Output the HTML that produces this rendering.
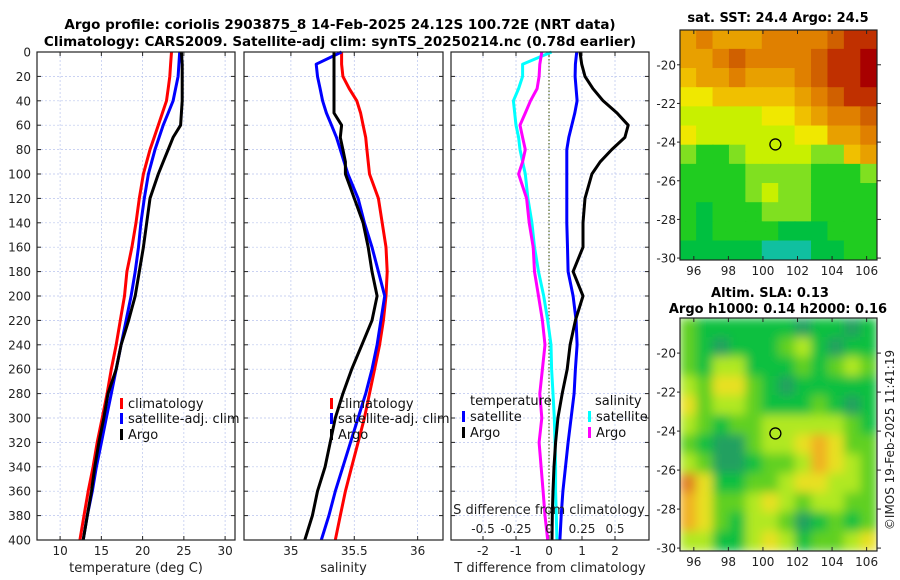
<!DOCTYPE html>
<html><head><meta charset="utf-8"><style>
body{margin:0;background:#fff;}
svg{display:block;font-family:"DejaVu Sans","Liberation Sans",sans-serif;}
</style></head><body>
<svg id="fig" width="900" height="580" viewBox="0 0 900 580" xmlns="http://www.w3.org/2000/svg">
<text x="340" y="29" font-size="13.5" font-weight="bold" text-anchor="middle">Argo profile: coriolis 2903875_8 14-Feb-2025 24.12S 100.72E (NRT data)</text>
<text x="340" y="46" font-size="13.5" font-weight="bold" text-anchor="middle">Climatology: CARS2009. Satellite-adj clim: synTS_20250214.nc (0.78d earlier)</text>
<text x="778" y="22" font-size="13" font-weight="bold" text-anchor="middle">sat. SST: 24.4 Argo: 24.5</text>
<text x="770" y="297" font-size="13" font-weight="bold" text-anchor="middle">Altim. SLA: 0.13</text>
<text x="778" y="313" font-size="13" font-weight="bold" text-anchor="middle">Argo h1000: 0.14 h2000: 0.16</text>
<text transform="translate(894,440) rotate(-90)" font-size="12" text-anchor="middle" fill="#222">©IMOS 19-Feb-2025 11:41:19</text>
<g id="root"></g>
</svg>
<script>
const depths=[0,10,20,30,40,50,60,70,80,90,100,120,140,160,180,200,220,240,260,280,300,320,340,360,380,400];
const tClim=[23.5,23.4,23.3,23.1,22.9,22.4,21.9,21.4,20.9,20.5,20.1,19.6,19.2,18.7,18.1,17.8,17.3,16.8,16.2,15.7,15.1,14.5,14.0,13.4,12.9,12.4];
const tSat=[24.5,24.4,24.3,24.0,23.7,23.1,22.5,22.0,21.5,21.1,20.7,20.2,19.8,19.5,19.1,18.6,18.0,17.4,16.8,16.2,15.6,15.0,14.4,13.9,13.3,12.8];
const tArgo=[24.7,24.8,24.8,24.8,24.8,24.7,24.6,23.7,23.1,22.5,21.9,20.9,20.5,20.1,19.6,19.1,18.3,17.4,16.8,15.8,15.3,14.7,14.2,13.8,13.3,12.8];
const sClim=[35.40,35.40,35.41,35.46,35.52,35.55,35.57,35.59,35.60,35.61,35.62,35.69,35.72,35.75,35.76,35.75,35.73,35.70,35.66,35.62,35.58,35.53,35.48,35.43,35.39,35.35];
const sSat=[35.40,35.20,35.21,35.23,35.25,35.28,35.32,35.36,35.39,35.42,35.45,35.53,35.58,35.64,35.69,35.74,35.71,35.68,35.64,35.59,35.53,35.47,35.41,35.35,35.30,35.24];
const sArgo=[35.34,35.34,35.34,35.34,35.34,35.34,35.40,35.39,35.41,35.43,35.43,35.50,35.57,35.61,35.64,35.68,35.64,35.56,35.48,35.41,35.35,35.31,35.27,35.21,35.17,35.11];
const dTsat=[0.84,0.80,0.79,0.82,0.85,0.78,0.69,0.60,0.54,0.54,0.54,0.54,0.54,0.56,0.58,0.73,0.82,0.85,0.80,0.76,0.67,0.58,0.50,0.42,0.37,0.33];
const dTargo=[0.94,0.99,1.09,1.33,1.64,2.06,2.40,2.30,1.90,1.55,1.30,1.09,1.03,1.03,0.73,1.03,0.80,0.64,0.55,0.40,0.27,0.20,0.15,0.12,0.10,0.09];
const dSsat=[0.02,-0.20,-0.20,-0.23,-0.27,-0.26,-0.25,-0.23,-0.22,-0.20,-0.18,-0.16,-0.13,-0.11,-0.08,-0.04,-0.01,0.015,0.02,0.03,0.04,0.045,0.05,0.05,0.055,0.06];
const dSargo=[-0.055,-0.07,-0.075,-0.09,-0.14,-0.18,-0.22,-0.20,-0.18,-0.20,-0.23,-0.17,-0.15,-0.12,-0.11,-0.08,-0.05,-0.03,-0.05,-0.07,-0.055,-0.075,-0.06,-0.045,-0.03,-0.01];
const depthTicks=[0,20,40,60,80,100,120,140,160,180,200,220,240,260,280,300,320,340,360,380,400];
const tTicks=[10,15,20,25,30];
const sTicks=[35,35.5,36];
const sTickLabels=["35","35.5","36"];
const dTTicks=[-2,-1,0,1,2];
const dSTicks=[-0.5,-0.25,0,0.25,0.5];
const dSTickLabels=["-0.5","-0.25","0","0.25","0.5"];
const sstVals=[
[6,7,6,6,6,7,7,7,7,8,9,9],[6,6,7,8,7,7,7,7,8,9,9,10],[5,6,6,7,6,6,6,7,8,9,9,10],[4,4,5,5,5,5,5,6,7,8,9,9],
[3,3,3,3,3,4,4,5,6,7,7,8],[4,3,3,3,3,3,3,4,4,6,6,7],[2,1,1,2,3,3,3,3,2,2,5,6],[1,1,1,1,2,2,2,2,1,1,1,2],
[1,1,1,1,2,3,2,2,1,1,1,1],[1,0,1,1,1,2,2,2,1,1,1,1],[1,0,1,1,1,1,0,0,0,1,1,1],[0,0,0,0,0,-1,-1,-1,0,0,1,1]];
const slaVals=[
[2,1,1,1,1,1,1,0,1,1,0,1],[2,1,0,1,1,1,2,3,1,0,1,1],[2,1,3,3,1,1,1,2,1,2,3,2],[3,2,4,4,2,1,0,1,1,1,1,1],
[4,2,3,3,2,1,1,1,2,1,0,1],[3,2,1,2,2,3,3,3,3,3,2,1],[2,1,0,0,2,3,3,4,5,4,2,2],[3,2,0,0,1,2,2,3,5,4,3,2],
[6,4,1,1,2,2,3,4,4,3,3,2],[5,4,2,2,3,4,3,2,3,3,2,2],[5,4,2,1,3,3,2,0,1,2,1,2],[3,3,1,1,3,4,3,1,2,2,3,4]];
const latTicks=[-20,-22,-24,-26,-28,-30];
const lonTicks=[96,98,100,102,104,106];
const argoLat=-24.12, argoLon=100.72;

const NS="http://www.w3.org/2000/svg";
const root=document.getElementById('root');
function mk(tag,attrs,parent){const e=document.createElementNS(NS,tag);for(const k in attrs)e.setAttribute(k,attrs[k]);(parent||root).appendChild(e);return e;}
const Y0=52,Y1=540;
const yD=d=>Y0+(d/400)*(Y1-Y0);
const panels=[
 {x0:37,x1:235,lo:7.2,hi:31.2,ticks:tTicks,labels:tTicks.map(String),xl:"temperature (deg C)",name:"temperature-panel"},
 {x0:244,x1:443,lo:34.63,hi:36.2,ticks:sTicks,labels:sTickLabels,xl:"salinity",name:"salinity-panel"},
 {x0:451,x1:649,lo:-2.97,hi:3.03,ticks:dTTicks,labels:dTTicks.map(String),xl:"T difference from climatology",name:"difference-panel"}];
panels.forEach(p=>{p.sx=v=>p.x0+(v-p.lo)/(p.hi-p.lo)*(p.x1-p.x0);});
panels.forEach((p,i)=>{
 const g=mk('g',{});
 
 
 depthTicks.forEach(d=>{mk('line',{x1:p.x0,x2:p.x1,y1:yD(d),y2:yD(d),stroke:'#b8c4ee','stroke-width':0.7,'stroke-dasharray':'2,2'},g);
  mk('line',{x1:p.x0,x2:p.x0+4,y1:yD(d),y2:yD(d),stroke:'#222'},g);mk('line',{x1:p.x1-4,x2:p.x1,y1:yD(d),y2:yD(d),stroke:'#222'},g);
  if(i==0){const t=mk('text',{x:p.x0-6,y:yD(d)+4.5,'font-size':12,'text-anchor':'end',fill:'#222'},g);t.textContent=d;}});
 p.ticks.forEach((v,k)=>{const x=p.sx(v);mk('line',{x1:x,x2:x,y1:Y0,y2:Y1,stroke:'#b8c4ee','stroke-width':0.7,'stroke-dasharray':'2,2'},g);
  mk('line',{x1:x,x2:x,y1:Y1-4,y2:Y1,stroke:'#222'},g);mk('line',{x1:x,x2:x,y1:Y0,y2:Y0+4,stroke:'#222'},g);
  const t=mk('text',{x:x,y:555,'font-size':12,'text-anchor':'middle',fill:'#222'},g);t.textContent=p.labels[k];});
 const xl=mk('text',{x:(p.x0+p.x1)/2,y:572,'font-size':13,'text-anchor':'middle',fill:'#222'},g);xl.textContent=p.xl;
});
const P3=panels[2];
mk('line',{x1:P3.sx(0),x2:P3.sx(0),y1:Y0,y2:Y1,stroke:'#556622','stroke-width':1.2,'stroke-dasharray':'1.5,2'});
function line(p,vals,col,name,scale){const s=scale||1;const pts=vals.map((v,k)=>p.sx(v*s).toFixed(1)+','+yD(depths[k]).toFixed(1)).join(' ');
 const e=mk('polyline',{points:pts,fill:'none',stroke:col,'stroke-width':3,'stroke-linejoin':'round'});
 
 }
line(panels[0],tClim,'#ff0000','temp-climatology-line');
line(panels[0],tSat,'#0000ff','temp-satellite-line');
line(panels[0],tArgo,'#000000','temp-argo-line');
line(panels[1],sClim,'#ff0000','sal-climatology-line');
line(panels[1],sSat,'#0000ff','sal-satellite-line');
line(panels[1],sArgo,'#000000','sal-argo-line');
line(P3,dSsat,'#00ffff','dS-satellite-line',4);
line(P3,dSargo,'#ff00ff','dS-argo-line',4);
line(P3,dTsat,'#0000ff','dT-satellite-line');
line(P3,dTargo,'#000000','dT-argo-line');
const sl=mk('text',{x:549,y:514,'font-size':13,'text-anchor':'middle',fill:'#222'});sl.textContent='S difference from climatology';

dSTicks.forEach((v,k)=>{const t=mk('text',{x:P3.sx(v*4),y:533,'font-size':12,'text-anchor':'middle',fill:'#222'});t.textContent=dSTickLabels[k];});
panels.forEach(p=>mk('rect',{x:p.x0,y:Y0,width:p.x1-p.x0,height:Y1-Y0,fill:'none',stroke:'#222','stroke-width':1.2}));
function leg(x,y,col,label,name){const g=mk('g',{});
 mk('rect',{x:x,y:y-10,width:3,height:11,fill:col},g);if(label){const t=mk('text',{x:x+8,y:y,'font-size':13,fill:'#111'},g);t.textContent=label;}}
leg(120,408,'#ff0000','climatology','legend-temp-climatology');
leg(120,423,'#0000ff','satellite-adj. clim','legend-temp-satellite');
leg(120,439,'#000000','Argo','legend-temp-argo');
leg(330,408,'#ff0000','climatology','legend-sal-climatology');
leg(330,423,'#0000ff','satellite-adj. clim','legend-sal-satellite');
leg(330,439,'#000000','Argo','legend-sal-argo');
const lt=mk('text',{x:470,y:405,'font-size':13,fill:'#111'});lt.textContent='temperature';
const ls=mk('text',{x:595,y:405,'font-size':13,fill:'#111'});ls.textContent='salinity';
leg(462,421,'#0000ff','satellite','legend-dT-satellite');
leg(462,437,'#000000','Argo','legend-dT-argo');
leg(588,421,'#00ffff','satellite','legend-dS-satellite');
leg(588,437,'#ff00ff','Argo','legend-dS-argo');
const sstCols={'-1':'#10c0a0','0':'#00c040','1':'#20cc20','2':'#80e020','3':'#c8f000','4':'#f0e800','5':'#f0c000','6':'#e8a000','7':'#e08000','8':'#d06000','9':'#c03000','10':'#a80000'};
const slaCols=['#20a060','#10c040','#60d020','#b0e820','#e8e020','#f0b020','#e08020'];
function map(m){
 const g=mk('g',{});
 const id='clip'+m.name;const cp=mk('clipPath',{id:id},g);mk('rect',{x:m.x0,y:m.y0,width:m.x1-m.x0,height:m.y1-m.y0},cp);
 const cg=mk('g',{'clip-path':'url(#'+id+')'},g);
 let inner=cg; if(m.blur){const f=mk('filter',{id:'bl'+m.name,x:'-10%',y:'-10%',width:'120%',height:'120%'},g);mk('feGaussianBlur',{stdDeviation:m.blur},f);inner=mk('g',{filter:'url(#bl'+m.name+')'},cg);}
 const R=m.vals.length,C=m.vals[0].length,cw=(m.x1-m.x0)/C,ch=(m.y1-m.y0)/R;
 m.vals.forEach((row,r)=>row.forEach((v,c)=>{const e=mk('rect',{x:m.x0+c*cw-0.3,y:m.y0+r*ch-0.3,width:cw+0.8,height:ch+0.8,fill:m.cols[v]},inner);
   
   }));
 const lx=v=>m.x0+(v-m.lonLo)/(m.lonHi-m.lonLo)*(m.x1-m.x0);
 const ly=v=>m.y0+(m.latHi-v)/(m.latHi-m.latLo)*(m.y1-m.y0);
 mk('rect',{x:m.x0,y:m.y0,width:m.x1-m.x0,height:m.y1-m.y0,fill:'none',stroke:'#222','stroke-width':1.2},g);
 latTicks.forEach(v=>{mk('line',{x1:m.x1,x2:m.x1+4,y1:ly(v),y2:ly(v),stroke:'#222'},g);mk('line',{x1:m.x0-3,x2:m.x0,y1:ly(v),y2:ly(v),stroke:'#222'},g);
  const t=mk('text',{x:m.x0-4,y:ly(v)+4.5,'font-size':12,'text-anchor':'end',fill:'#222'},g);t.textContent=v;});
 lonTicks.forEach(v=>{mk('line',{x1:lx(v),x2:lx(v),y1:m.y1-4,y2:m.y1,stroke:'#222'},g);mk('line',{x1:lx(v),x2:lx(v),y1:m.y0,y2:m.y0+4,stroke:'#222'},g);
  const t=mk('text',{x:lx(v),y:m.y1+15,'font-size':12,'text-anchor':'middle',fill:'#222'},g);t.textContent=v;});
 const c=mk('circle',{cx:lx(argoLon),cy:ly(argoLat),r:5.5,fill:'none',stroke:'#000','stroke-width':1.3},g);
 
}
map({name:'sst-map',x0:680,x1:877,y0:30,y1:260,lonLo:95.2,lonHi:106.6,latHi:-18.2,latLo:-30.1,vals:sstVals,cols:sstCols,blur:0});
map({name:'sla-map',x0:680,x1:877,y0:318,y1:551,lonLo:95.2,lonHi:106.6,latHi:-18.2,latLo:-30.15,vals:slaVals,cols:slaCols,blur:5});
</script>
</body></html>
